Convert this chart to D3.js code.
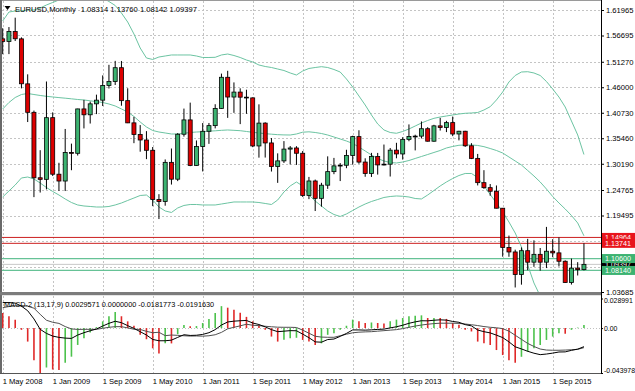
<!DOCTYPE html>
<html><head><meta charset="utf-8">
<script src="https://cdn.jsdelivr.net/npm/d3@7/dist/d3.min.js"></script>
<style>
html,body{margin:0;padding:0;background:#fff;}
svg{display:block;}
text{font-family:"Liberation Sans",Arial,sans-serif;}
</style></head><body>
<svg id="chart" width="635" height="391"></svg>
<script>
// ---------------- DATA ----------------
const symbolTitle = "EURUSD,Monthly";
const currentOHLC = ["1.08314","1.13760","1.08142","1.09397"];
const macdTitle = "MACD-2 (13,17,9)";
const macdTitleValues = ["0.0029571","0.0000000","-0.0181773","-0.0191630"];

const timeLabels = ["1 May 2008","1 Jan 2009","1 Sep 2009","1 May 2010","1 Jan 2011","1 Sep 2011",
                    "1 May 2012","1 Jan 2013","1 Sep 2013","1 May 2014","1 Jan 2015","1 Sep 2015"];
const timeLabelBars = [0,8,16,24,32,40,48,56,64,72,80,88];
const priceTicks = [1.61965,1.56695,1.51270,1.46000,1.40730,1.35460,1.30190,1.24765,1.19495,1.14225,1.08955,1.03685];
const macdTicks = [0.028991, 0, -0.043978];
const macdTickLabels = ["0.028991","0.00","-0.043978"];

// Monthly bars, May 2008 .. Feb 2016
const open = [1.5600,1.5546,1.5751,1.5600,1.4670,1.4082,1.2729,1.2697,1.3971,1.2803,
  1.2662,1.3251,1.3235,1.4152,1.4031,1.4257,1.4333,1.4638,1.4717,1.5004,
  1.4323,1.3864,1.3624,1.3510,1.3297,1.2279,1.2238,1.3048,1.2700,1.3629,
  1.3925,1.2984,1.3374,1.3690,1.3807,1.4161,1.4806,1.4398,1.4500,1.4395,
  1.4380,1.3387,1.3859,1.3449,1.2961,1.3078,1.3322,1.3345,1.3236,1.2365,
  1.2663,1.2304,1.2576,1.2856,1.2975,1.2988,1.3190,1.3580,1.3054,1.2819,
  1.3168,1.2995,1.3010,1.3300,1.3222,1.3523,1.3583,1.3590,1.3743,1.3485,
  1.3802,1.3769,1.3869,1.3634,1.3691,1.3390,1.3130,1.2628,1.2525,1.2451,
  1.2100,1.1290,1.1196,1.0731,1.1222,1.0985,1.1147,1.0985,1.1211,1.1177,
  1.1004,1.0565,1.0862,1.08314];
const high = [1.5819,1.5844,1.6038,1.5631,1.4867,1.4118,1.3299,1.4719,1.4081,1.3039,
  1.3738,1.3435,1.4156,1.4339,1.4304,1.4447,1.4845,1.5064,1.5145,1.5143,
  1.4579,1.3988,1.3818,1.3693,1.3365,1.2390,1.3108,1.3334,1.3652,1.4159,
  1.4282,1.3500,1.3860,1.3862,1.4249,1.4882,1.4940,1.4700,1.4578,1.4549,
  1.4390,1.4247,1.3876,1.3550,1.3234,1.3487,1.3385,1.3382,1.3283,1.2747,
  1.2692,1.2625,1.3172,1.3140,1.3033,1.3308,1.3598,1.3711,1.3132,1.3244,
  1.3243,1.3416,1.3345,1.3452,1.3568,1.3832,1.3619,1.3893,1.3775,1.3824,
  1.3967,1.3906,1.3994,1.3700,1.3700,1.3444,1.3222,1.2886,1.2600,1.2570,
  1.2105,1.1534,1.1243,1.1290,1.1467,1.1436,1.1278,1.1714,1.1460,1.1495,
  1.1023,1.1059,1.0985,1.13760];
const low = [1.5283,1.5285,1.5555,1.4577,1.3881,1.2329,1.2424,1.2489,1.2765,1.2457,
  1.2455,1.2885,1.3189,1.3749,1.3850,1.4045,1.4212,1.4574,1.4647,1.4218,
  1.3859,1.3444,1.3268,1.3114,1.2143,1.1876,1.2152,1.2589,1.2660,1.3580,
  1.2969,1.2975,1.2860,1.3430,1.3750,1.4151,1.3967,1.4071,1.3838,1.4051,
  1.3362,1.3145,1.3147,1.2858,1.2624,1.3036,1.3005,1.2995,1.2333,1.2288,
  1.2042,1.2132,1.2500,1.2803,1.2661,1.2927,1.3000,1.3019,1.2750,1.2746,
  1.2795,1.2985,1.2755,1.3132,1.3105,1.3484,1.3295,1.3542,1.3478,1.3475,
  1.3705,1.3673,1.3589,1.3502,1.3367,1.3115,1.2571,1.2500,1.2358,1.2098,
  1.1098,1.1097,1.0462,1.0520,1.0819,1.0889,1.0809,1.0863,1.1087,1.0896,
  1.0557,1.0522,1.0710,1.08142];
const close = [1.5548,1.5751,1.5602,1.4672,1.4082,1.2729,1.2697,1.3971,1.2803,1.2662,
  1.3251,1.3235,1.4152,1.4031,1.4257,1.4333,1.4638,1.4717,1.5004,1.4323,
  1.3864,1.3624,1.3510,1.3297,1.2279,1.2238,1.3048,1.2700,1.3629,1.3925,
  1.2984,1.3374,1.3690,1.3807,1.4161,1.4806,1.4398,1.4500,1.4395,1.4380,
  1.3387,1.3859,1.3449,1.2961,1.3078,1.3322,1.3345,1.3236,1.2365,1.2663,
  1.2304,1.2576,1.2856,1.2975,1.2988,1.3190,1.3580,1.3054,1.2819,1.3168,
  1.2995,1.3010,1.3300,1.3222,1.3523,1.3583,1.3590,1.3743,1.3485,1.3802,
  1.3769,1.3869,1.3634,1.3691,1.3390,1.3130,1.2628,1.2525,1.2451,1.2100,
  1.1290,1.1196,1.0731,1.1222,1.0985,1.1147,1.0985,1.1211,1.1177,1.1004,
  1.0565,1.0862,1.0831,1.09397];

// Bollinger bands
const bbUpper = [1.5969,1.6155,1.6176,1.6176,1.6197,1.6197,1.6238,1.6300,1.6352,1.6403,
  1.6457,1.6507,1.6527,1.6527,1.6507,1.6486,1.6445,1.6372,1.6290,1.6134,
  1.5948,1.5701,1.5411,1.5205,1.5174,1.5225,1.5246,1.5267,1.5267,1.5267,
  1.5267,1.5246,1.5215,1.5215,1.5219,1.5267,1.5287,1.5256,1.5215,1.5163,
  1.5122,1.5060,1.5029,1.5008,1.4977,1.4946,1.4895,1.4853,1.4936,1.4988,
  1.5008,1.5025,1.5008,1.4967,1.4915,1.4771,1.4605,1.4419,1.4233,1.4027,
  1.3841,1.3717,1.3665,1.3649,1.3686,1.3737,1.3799,1.3861,1.3913,1.3958,
  1.3985,1.4006,1.4027,1.4047,1.4062,1.4068,1.4078,1.4130,1.4198,1.4337,
  1.4502,1.4709,1.4843,1.4915,1.4921,1.4895,1.4843,1.4719,1.4564,1.4398,
  1.4192,1.3903,1.3614,1.3210];
const bbMiddle = [1.4151,1.4285,1.4388,1.4450,1.4471,1.4450,1.4430,1.4413,1.4399,1.4386,
  1.4374,1.4361,1.4347,1.4337,1.4320,1.4303,1.4285,1.4254,1.4213,1.4151,
  1.4089,1.3996,1.3882,1.3779,1.3706,1.3675,1.3655,1.3634,1.3634,1.3648,
  1.3665,1.3675,1.3681,1.3692,1.3700,1.3710,1.3717,1.3710,1.3702,1.3686,
  1.3669,1.3655,1.3640,1.3630,1.3620,1.3615,1.3613,1.3634,1.3671,1.3679,
  1.3665,1.3644,1.3613,1.3572,1.3531,1.3489,1.3438,1.3365,1.3283,1.3200,
  1.3128,1.3076,1.3045,1.3035,1.3055,1.3086,1.3128,1.3169,1.3210,1.3252,
  1.3293,1.3345,1.3376,1.3401,1.3407,1.3407,1.3397,1.3372,1.3334,1.3293,
  1.3241,1.3159,1.3076,1.2993,1.2880,1.2766,1.2642,1.2497,1.2342,1.2208,
  1.2084,1.1950,1.1795,1.1530];
const bbLower = [1.2332,1.2456,1.2580,1.2725,1.2745,1.2704,1.2621,1.2528,1.2446,1.2373,
  1.2291,1.2218,1.2167,1.2146,1.2136,1.2125,1.2125,1.2136,1.2167,1.2208,
  1.2260,1.2311,1.2363,1.2373,1.2270,1.2125,1.2043,1.2012,1.2105,1.2157,
  1.2177,1.2177,1.2167,1.2167,1.2167,1.2187,1.2208,1.2229,1.2229,1.2229,
  1.2229,1.2218,1.2198,1.2177,1.2270,1.2435,1.2560,1.2642,1.2560,1.2373,
  1.2249,1.2146,1.2043,1.1970,1.1929,1.1981,1.2053,1.2125,1.2187,1.2239,
  1.2280,1.2322,1.2342,1.2353,1.2347,1.2332,1.2301,1.2291,1.2373,1.2466,
  1.2560,1.2642,1.2714,1.2776,1.2818,1.2818,1.2735,1.2560,1.2384,1.2208,
  1.2022,1.1815,1.1588,1.1299,1.0927,1.0555,1.0286,1.0203,1.0121,0.9997,
  0.9976,0.9997,0.9976,0.9894];

// MACD-2 (13,17,9)
const macdLine = [0.0250,0.0250,0.0245,0.0215,0.0170,0.0090,-0.0012,-0.0052,-0.0078,-0.0091,
  -0.0098,-0.0101,-0.0068,-0.0045,-0.0026,-0.0009,0.0020,0.0047,0.0067,0.0053,
  0.0024,-0.0003,-0.0035,-0.0068,-0.0111,-0.0124,-0.0124,-0.0118,-0.0091,-0.0065,
  -0.0072,-0.0070,-0.0062,-0.0045,-0.0015,0.0030,0.0060,0.0068,0.0072,0.0075,
  0.0050,0.0035,0.0012,-0.0015,-0.0035,-0.0030,-0.0025,-0.0026,-0.0059,-0.0094,
  -0.0135,-0.0138,-0.0112,-0.0107,-0.0081,-0.0052,-0.0018,-0.0018,-0.0020,-0.0017,
  -0.0013,-0.0010,0.0002,0.0013,0.0028,0.0047,0.0061,0.0072,0.0071,0.0077,
  0.0081,0.0078,0.0065,0.0057,0.0034,0.0022,-0.0019,-0.0035,-0.0047,-0.0069,
  -0.0093,-0.0135,-0.0183,-0.0204,-0.0227,-0.0246,-0.0260,-0.0254,-0.0245,-0.0234,
  -0.0233,-0.0218,-0.0206,-0.0181773];
const signalLine = [0.0200,0.0211,0.0217,0.0221,0.0214,0.0195,0.0135,0.0077,0.0057,0.0046,
  0.0015,-0.0008,-0.0013,-0.0012,-0.0012,-0.0012,-0.0002,0.0008,0.0014,0.0014,
  0.0002,-0.0011,-0.0013,-0.0032,-0.0045,-0.0041,-0.0074,-0.0068,-0.0071,-0.0075,
  -0.0078,-0.0077,-0.0079,-0.0075,-0.0065,-0.0042,-0.0007,0.0008,0.0022,0.0038,
  0.0028,0.0024,0.0018,0.0013,0.0009,0.0008,0.0008,0.0006,-0.0020,-0.0050,
  -0.0080,-0.0088,-0.0090,-0.0090,-0.0075,-0.0060,-0.0046,-0.0040,-0.0037,-0.0035,
  -0.0030,-0.0025,-0.0020,-0.0015,-0.0005,0.0008,0.0020,0.0030,0.0038,0.0044,
  0.0048,0.0048,0.0048,0.0046,0.0040,0.0033,0.0025,0.0015,0.0008,0.0003,
  -0.0005,-0.0030,-0.0070,-0.0110,-0.0150,-0.0180,-0.0205,-0.0215,-0.0217,-0.0217,
  -0.0215,-0.0212,-0.0208,-0.0191630];
const histogram = [0.0149,0.0116,0.0083,-0.0017,-0.0132,-0.0314,-0.0440,-0.0386,-0.0406,-0.0410,
  -0.0340,-0.0280,-0.0165,-0.0099,-0.0043,0.0010,0.0066,0.0116,0.0158,0.0116,
  0.0066,0.0023,-0.0066,-0.0109,-0.0198,-0.0248,-0.0149,-0.0150,-0.0060,0.0030,
  0.0017,0.0020,0.0050,0.0089,0.0149,0.0215,0.0200,0.0180,0.0150,0.0110,
  0.0066,0.0033,-0.0017,-0.0083,-0.0132,-0.0115,-0.0099,-0.0095,-0.0116,-0.0132,
  -0.0165,-0.0149,-0.0066,-0.0050,-0.0017,0.0023,0.0083,0.0066,0.0050,0.0055,
  0.0050,0.0045,0.0066,0.0083,0.0099,0.0116,0.0122,0.0125,0.0099,0.0100,
  0.0100,0.0090,0.0050,0.0033,-0.0017,-0.0033,-0.0132,-0.0149,-0.0165,-0.0215,
  -0.0264,-0.0314,-0.0340,-0.0281,-0.0231,-0.0198,-0.0165,-0.0116,-0.0083,-0.0050,
  -0.0055,-0.0017,0.0005,0.0029571];

const levelPrices = [1.14964, 1.13741, 1.10600, 1.08140];
const levelKinds  = ["resistance","resistance","support","support"];
const currentPrice = 1.09397;

// ---------------- DRAWING ----------------
const W = 635, H = 391;
const L = 2, R = 601, mainTop = 1, mainBot = 292, subTop = 296, subBot = 373;
const FS = 7.6;
const FONT = '"Liberation Sans", Arial, sans-serif';

const n = close.length;
const x = d3.scaleLinear().domain([0, n - 1]).range([2.7, 2.7 + 6.25 * (n - 1)]);
const y = d3.scaleLinear().domain([1.03685, 1.61965]).range([292, 10]);
const ym = d3.scaleLinear().domain([-0.043978, 0.028991]).range([373, 298.5]);

const svg = d3.select("#chart");
svg.append("rect").attr("width", W).attr("height", H).attr("fill", "#fff");

const defs = svg.append("defs");
defs.append("clipPath").attr("id", "clipMain").append("rect")
  .attr("x", L).attr("y", mainTop).attr("width", R - L).attr("height", mainBot - mainTop);
defs.append("clipPath").attr("id", "clipSub").append("rect")
  .attr("x", L).attr("y", subTop).attr("width", R - L).attr("height", subBot - subTop);

const snap = v => Math.round(v) + 0.5;
const gridColor = "#c4c4c4";

// grid
const grid = svg.append("g");
priceTicks.forEach(p => {
  grid.append("line").attr("x1", L).attr("x2", R).attr("y1", snap(y(p))).attr("y2", snap(y(p)))
    .attr("stroke", gridColor).attr("stroke-dasharray", "2,2");
});
timeLabelBars.forEach(b => {
  grid.append("line").attr("x1", snap(x(b))).attr("x2", snap(x(b))).attr("y1", mainTop).attr("y2", mainBot)
    .attr("stroke", gridColor).attr("stroke-dasharray", "2,2");
  grid.append("line").attr("x1", snap(x(b))).attr("x2", snap(x(b))).attr("y1", subTop).attr("y2", subBot)
    .attr("stroke", gridColor).attr("stroke-dasharray", "2,2");
});

// main window content
const main = svg.append("g").attr("clip-path", "url(#clipMain)");

// level lines
main.append("line").attr("x1", L).attr("x2", R).attr("y1", y(currentPrice)).attr("y2", y(currentPrice))
  .attr("stroke", "#c8c8c8").attr("stroke-width", 1);
levelPrices.forEach((p, i) => {
  const res = levelKinds[i] === "resistance";
  main.append("line").attr("x1", L).attr("x2", R).attr("y1", y(p)).attr("y2", y(p))
    .attr("stroke", res ? "#cc2020" : "#66c296").attr("stroke-width", res ? 1 : 1.3);
});

// Bollinger bands
const bandLine = d3.line().x((d, i) => x(i)).y(d => y(d));
[bbUpper, bbMiddle, bbLower].forEach(arr => {
  main.append("path").attr("d", bandLine(arr)).attr("fill", "none")
    .attr("stroke", "#6cc4a2").attr("stroke-width", 1);
});

// candles
const idx = d3.range(n);
main.selectAll(".wick").data(idx).join("line")
  .attr("x1", i => x(i)).attr("x2", i => x(i))
  .attr("y1", i => y(high[i])).attr("y2", i => y(low[i]))
  .attr("stroke", "#000").attr("stroke-width", 1);
main.selectAll(".body").data(idx).join("rect")
  .attr("x", i => x(i) - 2)
  .attr("width", 4)
  .attr("y", i => y(Math.max(open[i], close[i])))
  .attr("height", i => Math.max(0.8, Math.abs(y(open[i]) - y(close[i]))))
  .attr("fill", i => close[i] > open[i] ? "#3cb371" : (close[i] < open[i] ? "#dd0000" : "#000"))
  .attr("stroke", "#000").attr("stroke-width", 0.8);

// ---- MACD sub window ----
const sub = svg.append("g").attr("clip-path", "url(#clipSub)");
sub.append("line").attr("x1", L).attr("x2", R).attr("y1", snap(ym(0))).attr("y2", snap(ym(0)))
  .attr("stroke", "#c0c0c0").attr("stroke-dasharray", "1,2");
sub.selectAll(".hist").data(idx).join("line")
  .attr("x1", i => x(i)).attr("x2", i => x(i))
  .attr("y1", ym(0)).attr("y2", i => ym(histogram[i]))
  .attr("stroke", i => (i > 0 && histogram[i] > histogram[i - 1]) ? "#4cc24c" : "#e02828")
  .attr("stroke-width", 1.6);
const mLine = d3.line().x((d, i) => x(i)).y(d => ym(d));
sub.append("path").attr("d", mLine(signalLine)).attr("fill", "none").attr("stroke", "#505050").attr("stroke-width", 1);
sub.append("path").attr("d", mLine(macdLine)).attr("fill", "none").attr("stroke", "#000").attr("stroke-width", 1);

// frames
svg.append("line").attr("x1", 0).attr("x2", R).attr("y1", 0.5).attr("y2", 0.5).attr("stroke", "#9a9a9a");
svg.append("line").attr("x1", 1).attr("x2", 1).attr("y1", 0).attr("y2", subBot).attr("stroke", "#6a6a6a").attr("stroke-width", 2);
svg.append("rect").attr("x", 0).attr("y", 292).attr("width", R + 1).attr("height", 3.2).attr("fill", "#7c7c7c");
svg.append("line").attr("x1", 0).attr("x2", R).attr("y1", subBot + 0.5).attr("y2", subBot + 0.5).attr("stroke", "#555");
svg.append("line").attr("x1", R + 0.5).attr("x2", R + 0.5).attr("y1", 0).attr("y2", subBot + 1).attr("stroke", "#000");

// right-side price boxes (prices), used also to hide covered tick labels like the reference
const boxPrices = [currentPrice].concat(levelPrices);

// price axis
const yAxis = d3.axisRight(y).tickValues(priceTicks).tickFormat(d3.format(".5f")).tickSize(3).tickPadding(2);
svg.append("g").attr("transform", `translate(${R},0)`).call(yAxis)
  .attr("font-family", FONT).attr("font-size", FS)
  .call(g => g.select(".domain").remove())
  .call(g => g.selectAll("line").attr("stroke", "#000"))
  .call(g => g.selectAll("text").attr("fill", "#000"))
  .call(g => g.selectAll("text").filter(d => boxPrices.some(p => Math.abs(y(p) - y(d)) < 5)).remove());

// MACD axis
const mAxis = d3.axisRight(ym).tickValues(macdTicks).tickFormat((d, i) => macdTickLabels[i]).tickSize(2).tickPadding(1);
svg.append("g").attr("transform", `translate(${R},0)`).call(mAxis)
  .attr("font-family", FONT).attr("font-size", 6.9)
  .call(g => g.select(".domain").remove())
  .call(g => g.selectAll("line").attr("stroke", "#000"))
  .call(g => g.selectAll("text").attr("fill", "#000")
    .attr("dy", (d, i) => i === 0 ? "0.6em" : (i === 2 ? "-0.1em" : "0.32em")));

// time axis
const xAxis = d3.axisBottom(x).tickValues(timeLabelBars).tickFormat((d, i) => timeLabels[i])
  .tickSize(0).tickPadding(6);
svg.append("g").attr("transform", `translate(0,${subBot})`).call(xAxis)
  .attr("font-family", FONT).attr("font-size", FS)
  .call(g => g.select(".domain").remove())
  .call(g => g.selectAll("text").attr("fill", "#000").attr("text-anchor", "start").attr("dx", -0.5));

// boxes
const boxG = svg.append("g").attr("font-family", FONT).attr("font-size", 7.2);
function priceBox(p, fill) {
  const yy = y(p);
  boxG.append("rect").attr("x", R + 1).attr("y", yy - 4.5).attr("width", W - R - 1).attr("height", 9).attr("fill", fill);
  boxG.append("text").attr("x", R + 4).attr("y", yy).attr("dy", "0.34em").attr("fill", "#fff")
    .text(d3.format(".5f")(p));
}
priceBox(currentPrice, "#000");
levelPrices.forEach((p, i) => { if (levelKinds[i] === "support") priceBox(p, "#3cb371"); });
levelPrices.forEach((p, i) => { if (levelKinds[i] === "resistance") priceBox(p, "#e8141c"); });

// titles
svg.append("path").attr("d", "M4.5,6 L10.5,6 L7.5,10 Z").attr("fill", "#000");
const t1 = svg.append("text").attr("x", 15).attr("y", 11.6).attr("font-family", FONT).attr("font-size", FS).attr("fill", "#000");
t1.append("tspan").text(symbolTitle);
t1.append("tspan").attr("dx", 5).text(currentOHLC.join(" "));
svg.append("text").attr("x", 4).attr("y", 306.5).attr("font-family", FONT).attr("font-size", 7.3).attr("fill", "#000")
  .text(macdTitle + " " + macdTitleValues.join(" "));
</script>
</body></html>
